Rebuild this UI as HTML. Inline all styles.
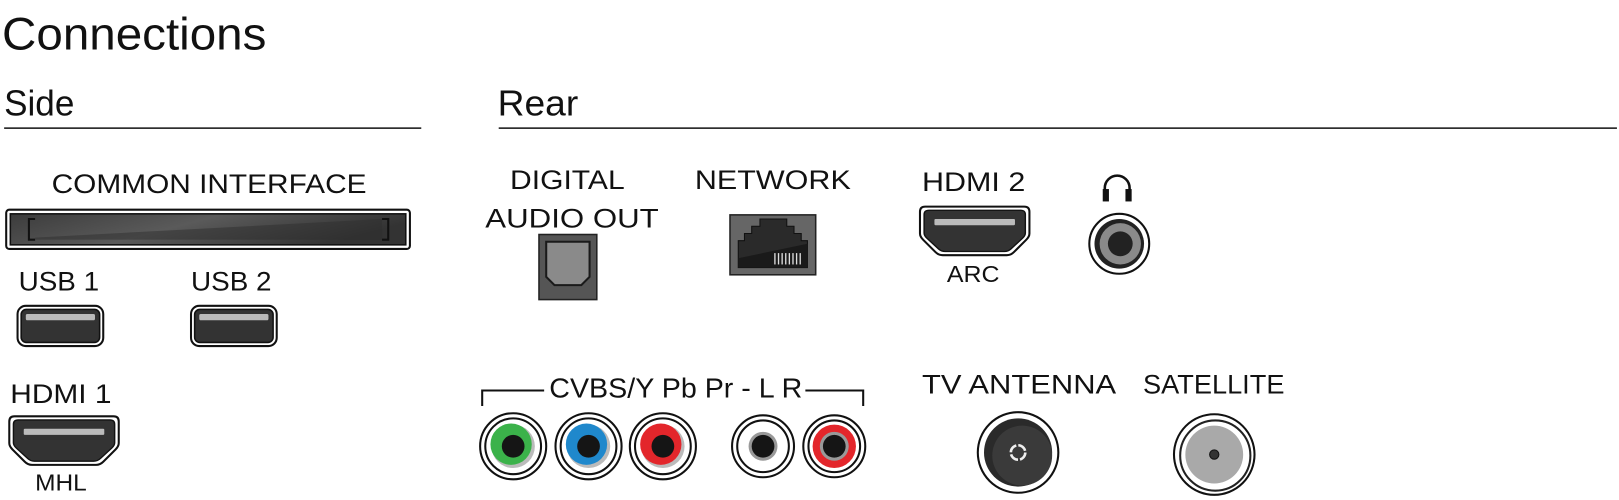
<!DOCTYPE html>
<html><head><meta charset="utf-8"><style>
html,body{margin:0;padding:0;background:#fff;width:1619px;height:500px;overflow:hidden}
svg{display:block}
text{font-family:"Liberation Sans","DejaVu Sans",sans-serif;fill:#111}
</style></head><body>
<svg width="1619" height="500" viewBox="0 0 1568 484" preserveAspectRatio="none" xmlns="http://www.w3.org/2000/svg">
<defs>
<linearGradient id="ci" x1="0" y1="0" x2="1" y2="0.3">
<stop offset="0" stop-color="#3c3c3c"/><stop offset="0.5" stop-color="#5a5a5a"/><stop offset="1" stop-color="#333"/></linearGradient>
<path id="hd" d="M5,0 H101 Q106,0 106,5 V26 Q106,29 103,32 L91,44 Q88,47 84,47 H22 Q18,47 15,44 L3,32 Q0,29 0,26 V5 Q0,0 5,0 Z"/>
<g id="usb">
<rect x="0" y="0" width="83" height="39" rx="8" fill="#fff" stroke="#111" stroke-width="2"/>
<rect x="3.5" y="3.5" width="76" height="32" rx="5" fill="#333" stroke="#111" stroke-width="1.5"/>
<rect x="8" y="8" width="67" height="6" rx="1.5" fill="#bbb"/>
</g>
<g id="hdmi">
<use href="#hd" fill="#fff" stroke="#111" stroke-width="2"/>
<use href="#hd" transform="translate(4,3.5) scale(0.925,0.85)" fill="#333" stroke="#111" stroke-width="1.5"/>
<rect x="14" y="12" width="78" height="6" rx="1" fill="#bbb"/>
</g>
</defs>

<text x="2" y="48" font-size="44" textLength="256" lengthAdjust="spacingAndGlyphs" style="font-weight:300">Connections</text>
<text x="4" y="112" font-size="35" textLength="68" lengthAdjust="spacingAndGlyphs">Side</text>
<line x1="4" y1="124" x2="408" y2="124" stroke="#111" stroke-width="1.5"/>
<text x="482" y="112" font-size="35" textLength="78" lengthAdjust="spacingAndGlyphs">Rear</text>
<line x1="483" y1="124" x2="1566" y2="124" stroke="#111" stroke-width="1.5"/>

<!-- Side -->
<text x="50" y="187" font-size="26" textLength="305" lengthAdjust="spacingAndGlyphs">COMMON INTERFACE</text>
<rect x="6" y="203" width="391" height="38" rx="3" fill="#fff" stroke="#111" stroke-width="2"/>
<rect x="10" y="207" width="383" height="30" fill="url(#ci)" stroke="#111" stroke-width="1.5"/>
<path d="M34,212 H28 V232 H34 M370,212 H376 V232 H370" fill="none" stroke="#111" stroke-width="2"/>
<path d="M34,230 L370,212 L370,232 L34,232Z" fill="#2e2e2e" opacity="0.5"/>

<text x="18" y="281" font-size="26" textLength="78" lengthAdjust="spacingAndGlyphs">USB 1</text>
<text x="185" y="281" font-size="26" textLength="78" lengthAdjust="spacingAndGlyphs">USB 2</text>
<use href="#usb" x="17" y="296"/>
<use href="#usb" x="185" y="296"/>
<text x="10" y="390" font-size="26" textLength="98" lengthAdjust="spacingAndGlyphs">HDMI 1</text>
<use href="#hdmi" x="9" y="403"/>
<text x="34" y="475" font-size="22" textLength="50" lengthAdjust="spacingAndGlyphs">MHL</text>

<!-- Rear top -->
<text x="494" y="183" font-size="26" textLength="111" lengthAdjust="spacingAndGlyphs">DIGITAL</text>
<text x="470" y="220" font-size="26" textLength="168" lengthAdjust="spacingAndGlyphs">AUDIO OUT</text>
<rect x="522" y="227" width="56" height="63" fill="#555" stroke="#222" stroke-width="1.5"/>
<path d="M529,234 H571 V268 L563,276 H537 L529,268 Z" fill="#8a8a8a" stroke="#1a1a1a" stroke-width="2"/>

<text x="673" y="183" font-size="26" textLength="151" lengthAdjust="spacingAndGlyphs">NETWORK</text>
<rect x="707" y="208" width="83" height="58" fill="#666" stroke="#222" stroke-width="1.5"/>
<path d="M736,212 H762 V219 H769 V226 H776 V233 H782 V259 H715 V233 H721 V226 H728 V219 H736 Z" fill="#2a2a2a" stroke="#111" stroke-width="1"/>
<path d="M715,250 L782,236 V259 H715Z" fill="#1a1a1a"/>
<g stroke="#ddd" stroke-width="1.3">
<line x1="754" y1="245" x2="754" y2="256"/><line x1="757.5" y1="245" x2="757.5" y2="256"/><line x1="761" y1="245" x2="761" y2="256"/><line x1="764.5" y1="245" x2="764.5" y2="256"/><line x1="768" y1="245" x2="768" y2="256"/><line x1="771.5" y1="245" x2="771.5" y2="256"/><line x1="775" y1="245" x2="775" y2="256"/><line x1="750.5" y1="245" x2="750.5" y2="256"/>
</g>

<text x="893" y="185" font-size="26" textLength="100" lengthAdjust="spacingAndGlyphs">HDMI 2</text>
<use href="#hdmi" x="891" y="200"/>
<text x="917" y="273" font-size="22" textLength="51" lengthAdjust="spacingAndGlyphs">ARC</text>

<!-- headphone icon -->
<path d="M1070,190 V182 A12,12 0 0 1 1094,182 V190" fill="none" stroke="#111" stroke-width="2.5"/>
<rect x="1068" y="183" width="6" height="12" fill="#111"/><rect x="1090" y="183" width="6" height="12" fill="#111"/>
<circle cx="1084" cy="236" r="29" fill="#fff" stroke="#111" stroke-width="2"/>
<circle cx="1084" cy="236" r="24" fill="#222"/>
<circle cx="1085" cy="236" r="20" fill="#8a8a8a"/>
<circle cx="1085" cy="236" r="12" fill="#222"/>

<!-- CVBS -->
<path d="M467,393 V378 H527 M780,378 H836 V393" fill="none" stroke="#111" stroke-width="2"/>
<text x="532" y="385" font-size="27" textLength="245" lengthAdjust="spacingAndGlyphs">CVBS/Y Pb Pr - L R</text>
<g id="rcas">
<g transform="translate(497,432)"><circle r="32" fill="#fff" stroke="#111" stroke-width="2"/><circle r="27" fill="#fff" stroke="#111" stroke-width="2"/><circle r="21" fill="#bbb"/><circle r="20" cx="-2" cy="-2" fill="#3bb24a"/><circle r="11" fill="#151515"/></g>
<g transform="translate(570,432)"><circle r="32" fill="#fff" stroke="#111" stroke-width="2"/><circle r="27" fill="#fff" stroke="#111" stroke-width="2"/><circle r="21" fill="#bbb"/><circle r="20" cx="-2" cy="-2" fill="#1f88cc"/><circle r="11" fill="#151515"/></g>
<g transform="translate(642,432)"><circle r="32" fill="#fff" stroke="#111" stroke-width="2"/><circle r="27" fill="#fff" stroke="#111" stroke-width="2"/><circle r="21" fill="#bbb"/><circle r="20" cx="-2" cy="-2" fill="#e3262b"/><circle r="11" fill="#151515"/></g>
<g transform="translate(739,432)"><circle r="30" fill="#fff" stroke="#111" stroke-width="2"/><circle r="25" fill="#fff" stroke="#111" stroke-width="2"/><circle r="14" fill="#999"/><circle r="11" fill="#151515"/></g>
<g transform="translate(808,432)"><circle r="30" fill="#fff" stroke="#111" stroke-width="2"/><circle r="25" fill="#fff" stroke="#111" stroke-width="2"/><circle r="21" fill="#e3262b"/><circle r="14" fill="#999"/><circle r="11" fill="#151515"/></g>
</g>

<text x="893" y="381" font-size="26" textLength="188" lengthAdjust="spacingAndGlyphs">TV ANTENNA</text>
<circle cx="986" cy="438" r="39" fill="#fff" stroke="#111" stroke-width="2"/>
<circle cx="986" cy="438" r="33" fill="#2a2a2a"/>
<circle cx="990" cy="441" r="29" fill="#3a3a3a"/>
<circle cx="986" cy="438" r="7" fill="none" stroke="#eee" stroke-width="2.5" stroke-dasharray="9 2"/>

<text x="1107" y="381" font-size="26" textLength="137" lengthAdjust="spacingAndGlyphs">SATELLITE</text>
<circle cx="1176" cy="440" r="39" fill="#fff" stroke="#111" stroke-width="2"/>
<circle cx="1177" cy="441" r="34" fill="#fff" stroke="#222" stroke-width="2"/>
<circle cx="1176" cy="440" r="28" fill="#a9a9a9"/>
<circle cx="1176" cy="440" r="4.5" fill="#333" stroke="#111" stroke-width="1"/>
</svg>
</body></html>
